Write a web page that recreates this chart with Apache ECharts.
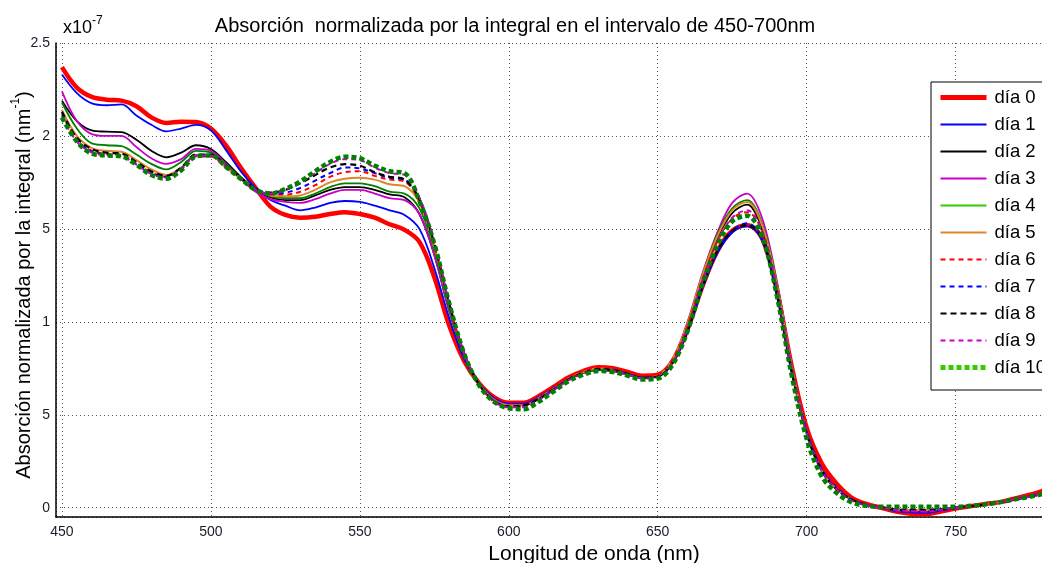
<!DOCTYPE html>
<html><head><meta charset="utf-8">
<script src="https://cdn.jsdelivr.net/npm/echarts@6/dist/echarts.min.js"></script>
<style>html,body{margin:0;padding:0;background:#fff}#c{width:1042px;height:563px}</style>
</head><body><div id="c"></div><script>
const wavelengths = [450,455,460,465,470,475,480,485,490,495,500,505,510,515,520,525,530,535,540,545,550,555,560,565,570,575,580,585,590,595,600,605,610,615,620,625,630,635,640,645,650,655,660,665,670,675,680,685,690,695,700,705,710,715,720,725,730,735,740,745,750,755,760,765,770,775,780];
const seriesNames = ['día 0','día 1','día 2','día 3','día 4','día 5','día 6','día 7','día 8','día 9','día 10'];
const day0 = [2.37,2.26,2.21,2.195,2.19,2.16,2.10,2.07,2.077,2.075,2.04,1.95,1.83,1.72,1.62,1.575,1.56,1.565,1.58,1.59,1.58,1.56,1.525,1.495,1.43,1.24,0.98,0.79,0.67,0.595,0.565,
  0.565,0.60,0.65,0.70,0.735,0.755,0.75,0.73,0.71,0.715,0.79,0.96,1.19,1.38,1.49,1.52,1.45,1.17,0.76,0.43,0.24,0.13,0.055,0.02,0.0,-0.02,-0.032,-0.035,-0.02,-0.005,0.008,0.02,0.03,0.05,0.07,0.095];
const day1 = [2.33,2.23,2.175,2.165,2.17,2.11,2.06,2.025,2.04,2.06,2.03,1.925,1.81,1.72,1.655,1.625,1.60,1.615,1.64,1.65,1.645,1.625,1.60,1.575,1.50,1.29,1.02,0.80,0.67,0.59,0.56,
  0.56,0.595,0.645,0.695,0.73,0.745,0.74,0.72,0.70,0.705,0.78,0.95,1.18,1.37,1.48,1.515,1.44,1.15,0.73,0.41,0.21,0.11,0.045,0.015,0.0,-0.018,-0.025,-0.028,-0.015,-0.003,0.008,0.018,0.03,0.045,0.06,0.08];
const day2 = [2.19,2.08,2.03,2.023,2.02,1.98,1.92,1.885,1.91,1.95,1.93,1.86,1.78,1.71,1.67,1.655,1.655,1.68,1.71,1.725,1.725,1.71,1.685,1.67,1.58,1.36,1.06,0.82,0.67,0.585,0.555,
  0.555,0.59,0.64,0.69,0.725,0.74,0.735,0.715,0.70,0.705,0.79,0.98,1.23,1.45,1.585,1.63,1.50,1.19,0.75,0.40,0.20,0.10,0.045,0.015,0.0,-0.01,-0.012,-0.012,-0.008,0.0,0.008,0.018,0.03,0.045,0.06,0.075];
const day3 = [2.24,2.08,2.01,2.0,2.0,1.94,1.88,1.85,1.875,1.93,1.92,1.85,1.77,1.70,1.66,1.645,1.64,1.66,1.69,1.71,1.71,1.69,1.665,1.655,1.58,1.36,1.06,0.82,0.67,0.585,0.555,
  0.555,0.59,0.64,0.69,0.725,0.74,0.735,0.715,0.70,0.71,0.80,1.00,1.26,1.48,1.64,1.69,1.56,1.22,0.77,0.41,0.20,0.10,0.045,0.015,0.0,-0.015,-0.02,-0.022,-0.012,0.0,0.008,0.018,0.03,0.045,0.06,0.075];
const day4 = [2.18,2.04,1.96,1.95,1.945,1.90,1.85,1.82,1.86,1.92,1.91,1.84,1.77,1.71,1.675,1.665,1.665,1.69,1.725,1.745,1.745,1.73,1.70,1.69,1.61,1.39,1.08,0.83,0.67,0.58,0.55,
  0.55,0.585,0.635,0.69,0.725,0.74,0.735,0.715,0.70,0.71,0.80,0.99,1.25,1.47,1.61,1.655,1.53,1.21,0.76,0.40,0.20,0.10,0.045,0.015,0.0,-0.01,-0.012,-0.012,-0.008,0.0,0.008,0.018,0.03,0.045,0.06,0.075];
const day5 = [2.14,2.00,1.935,1.92,1.915,1.87,1.82,1.79,1.83,1.895,1.895,1.83,1.77,1.71,1.68,1.675,1.68,1.71,1.75,1.77,1.775,1.765,1.74,1.73,1.64,1.40,1.09,0.83,0.67,0.58,0.55,
  0.55,0.59,0.64,0.695,0.73,0.75,0.74,0.72,0.70,0.71,0.80,0.99,1.25,1.46,1.60,1.645,1.52,1.20,0.76,0.40,0.20,0.10,0.045,0.015,0.0,-0.01,-0.012,-0.012,-0.008,0.0,0.008,0.018,0.03,0.045,0.06,0.075];
const day6 = [2.12,1.98,1.92,1.905,1.90,1.855,1.805,1.78,1.82,1.89,1.89,1.83,1.77,1.71,1.685,1.685,1.70,1.735,1.78,1.805,1.81,1.785,1.765,1.755,1.65,1.41,1.09,0.83,0.665,0.575,0.545,
  0.55,0.59,0.645,0.70,0.735,0.755,0.745,0.725,0.705,0.715,0.80,0.98,1.23,1.43,1.555,1.59,1.49,1.19,0.76,0.42,0.22,0.11,0.05,0.018,0.0,-0.012,-0.015,-0.015,-0.01,0.0,0.008,0.018,0.03,0.045,0.065,0.085];
const day7 = [2.11,1.98,1.915,1.90,1.895,1.85,1.80,1.78,1.825,1.895,1.895,1.835,1.77,1.71,1.69,1.695,1.72,1.76,1.80,1.83,1.825,1.80,1.775,1.765,1.66,1.42,1.10,0.83,0.665,0.575,0.545,
  0.55,0.585,0.635,0.69,0.725,0.745,0.74,0.72,0.70,0.705,0.78,0.95,1.19,1.38,1.49,1.53,1.45,1.16,0.74,0.41,0.21,0.10,0.045,0.015,0.0,-0.015,-0.02,-0.022,-0.012,0.0,0.008,0.018,0.03,0.045,0.06,0.08];
const day8 = [2.13,1.99,1.93,1.91,1.905,1.86,1.81,1.785,1.83,1.90,1.90,1.84,1.775,1.715,1.695,1.71,1.745,1.79,1.83,1.848,1.84,1.805,1.78,1.765,1.66,1.42,1.10,0.83,0.665,0.575,0.545,
  0.55,0.585,0.635,0.69,0.725,0.745,0.74,0.72,0.70,0.705,0.78,0.95,1.19,1.38,1.49,1.52,1.45,1.15,0.73,0.40,0.20,0.10,0.045,0.015,0.0,-0.01,-0.012,-0.012,-0.008,0.0,0.008,0.018,0.03,0.045,0.06,0.075];
const day9 = [2.10,1.97,1.91,1.895,1.89,1.845,1.795,1.775,1.82,1.895,1.895,1.835,1.77,1.71,1.69,1.71,1.75,1.80,1.85,1.875,1.87,1.83,1.80,1.79,1.67,1.43,1.10,0.83,0.66,0.57,0.54,
  0.54,0.58,0.63,0.685,0.72,0.74,0.735,0.715,0.695,0.70,0.78,0.97,1.22,1.43,1.56,1.60,1.49,1.18,0.75,0.40,0.20,0.10,0.04,0.012,0.0,-0.012,-0.018,-0.02,-0.01,0.0,0.008,0.018,0.03,0.045,0.06,0.075];
const day10 = [2.10,1.97,1.905,1.895,1.89,1.845,1.79,1.77,1.815,1.89,1.895,1.835,1.77,1.71,1.69,1.715,1.755,1.81,1.86,1.888,1.88,1.84,1.81,1.80,1.65,1.42,1.10,0.83,0.66,0.57,0.535,
  0.53,0.57,0.625,0.68,0.715,0.735,0.73,0.71,0.69,0.695,0.77,0.95,1.20,1.41,1.54,1.57,1.46,1.14,0.71,0.37,0.17,0.08,0.03,0.01,0.005,0.005,0.005,0.005,0.005,0.005,0.01,0.018,0.03,0.045,0.06,0.075];
const yTickValues = [0, 0.5, 1, 1.5, 2, 2.5];
const yTickLabels = ['0', '5', '1', '5', '2', '2.5'];
const xTickValues = [450, 500, 550, 600, 650, 700, 750];

const allDays = [day0, day1, day2, day3, day4, day5, day6, day7, day8, day9, day10];
const styles = [
  {color:'#ff0000', width:4.5, type:'solid', legend:'#ff0000', lw:5},
  {color:'#0000ff', width:1.8, type:'solid', legend:'#0000ff', lw:2},
  {color:'#000000', width:1.8, type:'solid', legend:'#000000', lw:2},
  {color:'#c800c8', width:1.8, type:'solid', legend:'#c800c8', lw:2},
  {color:'#008000', width:1.8, type:'solid', legend:'#33cc00', lw:2},
  {color:'#e0862a', width:2, type:'solid', legend:'#e0862a', lw:2},
  {color:'#ff0000', width:2, type:[5,4], legend:'#ff0000', lw:2},
  {color:'#0000ff', width:2, type:[5,4], legend:'#0000ff', lw:2},
  {color:'#000000', width:2.2, type:[6,4], legend:'#000000', lw:2},
  {color:'#c800c8', width:2, type:[5,4], legend:'#c800c8', lw:2},
  {color:'#008000', width:4.5, type:[5,3], legend:'#33cc00', lw:5}
];
const FONT = '"Liberation Sans", Arial, sans-serif';
const chart = echarts.init(document.getElementById('c'), null, {renderer:'canvas'});
const series = allDays.map((arr, i) => ({
  name: seriesNames[i],
  type: 'line',
  data: wavelengths.map((w, j) => [w, arr[j]]),
  showSymbol: false,
  symbol: 'none',
  smooth: 0.35,
  clip: true,
  lineStyle: {color: styles[i].color, width: styles[i].width, type: styles[i].type},
  itemStyle: {color: styles[i].color},
  emphasis: {disabled: true},
  animation: false
}));
chart.setOption({
  animation: false,
  backgroundColor: '#ffffff',
  textStyle: {fontFamily: FONT},
  title: {
    text: 'Absorción  normalizada por la integral en el intervalo de 450-700nm',
    left: 510, top: 11, textAlign: 'center',
    textStyle: {fontFamily: FONT, fontSize: 20, fontWeight: 'normal', color: '#000'}
  },
  graphic: [{
    type: 'text', left: 63, top: 15,
    style: {
      text: '{a|x10}{s|-7}',
      rich: {a: {fontSize: 18, fontFamily: FONT, fill: '#000', lineHeight: 22, verticalAlign: 'bottom'},
             s: {fontSize: 12, fontFamily: FONT, fill: '#000', lineHeight: 22, verticalAlign: 'top'}}
    }
  }],
  grid: {left: 56, right: 0, top: 43, bottom: 46, containLabel: false, outerBoundsMode: 'none'},
  legend: {
    orient: 'vertical', left: 931, top: 82,
    padding: [6, 80, 13, 7],
    itemWidth: 46, itemHeight: 14, itemGap: 8,
    backgroundColor: '#fff', borderColor: '#000', borderWidth: 1, borderRadius: 0,
    textStyle: {fontFamily: FONT, fontSize: 18.5, color: '#000', padding: [0,0,0,3]},
    data: seriesNames.map((n, i) => ({name: n, lineStyle: {color: styles[i].legend, width: styles[i].lw}, itemStyle: {opacity: 0}})),
    selectedMode: false
  },
  xAxis: {
    type: 'value', min: 448, max: 779, splitNumber: 6,
    name: 'Longitud de onda (nm)', nameLocation: 'middle', nameGap: 25,
    nameTextStyle: {fontFamily: FONT, fontSize: 21, color: '#000', padding: [0, 0, 0, 90]},
    axisLine: {show: true, onZero: false, lineStyle: {color: '#000', width: 1.5}},
    axisTick: {show: false},
    axisLabel: {
      showMinLabel: true, showMaxLabel: false, margin: 8,
      fontFamily: FONT, fontSize: 14, color: '#1a1a2a',
      formatter: v => xTickValues.indexOf(Math.round(v)) >= 0 && Math.abs(v - Math.round(v)) < 1e-6 ? String(Math.round(v)) : ''
    },
    splitLine: {show: true, lineStyle: {color: '#555', width: 1, type: [1, 3]}}
  },
  yAxis: {
    type: 'value', min: -0.05, max: 2.5, splitNumber: 5,
    name: '{n|Absorción normalizada por la integral (nm}{s|-1}{n|)}',
    nameLocation: 'middle', nameGap: 22, nameRotate: 90, nameMoveOverlap: false,
    nameTextStyle: {
      fontFamily: FONT, color: '#000', padding: [0, 10, 0, 0],
      rich: {n: {fontSize: 20, fontFamily: FONT, color: '#000', lineHeight: 24, verticalAlign: 'bottom'},
             s: {fontSize: 12, fontFamily: FONT, color: '#000', lineHeight: 24, verticalAlign: 'top'}}
    },
    axisLine: {show: true, onZero: false, lineStyle: {color: '#000', width: 1.5}},
    axisTick: {show: false},
    axisLabel: {
      margin: 6, fontFamily: FONT, fontSize: 14, color: '#1a1a2a',
      formatter: v => { const k = yTickValues.findIndex(t => Math.abs(t - v) < 1e-6); return k >= 0 ? yTickLabels[k] : ''; }
    },
    splitLine: {show: true, lineStyle: {color: '#555', width: 1, type: [1, 3]}}
  },
  series: series
});
</script></body></html>
